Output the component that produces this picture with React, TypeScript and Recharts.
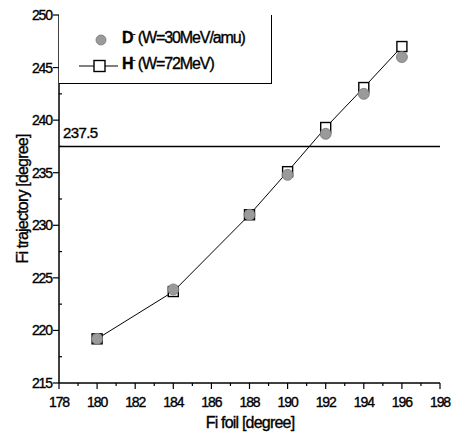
import React from "react";
import {
  ComposedChart,
  Line,
  XAxis,
  YAxis,
  ReferenceLine,
} from "recharts";

const foil = [180, 184, 188, 190, 192, 194, 196];
const dMinus = [219.2, 223.9, 231.0, 234.8, 238.7, 242.5, 246.0];
const hMinus = [219.2, 223.7, 231.0, 235.1, 239.3, 243.1, 247.0];
const xTicks = [178, 179, 180, 181, 182, 183, 184, 185, 186, 187, 188, 189, 190, 191, 192, 193, 194, 195, 196, 197, 198];
const yTicks = [215, 217.5, 220, 222.5, 225, 227.5, 230, 232.5, 235, 237.5, 240, 242.5, 245, 247.5, 250];
const refValue = 237.5;

const data = foil.map((x, i) => ({ x, d: dMinus[i], h: hMinus[i] }));

const FONT = "'Liberation Sans', Arial, sans-serif";
const textStyle = { stroke: "#000", strokeWidth: 0.35 };

const BottomTick = (props: any) => {
  const { x, y, payload } = props;
  const major = payload.value % 2 === 0;
  return (
    <g>
      <line x1={x} x2={x} y1={y} y2={y + (major ? 6 : 3)} stroke="#000" strokeWidth={1.2} />
      {major && (
        <text x={x} y={y + 24} textAnchor="middle" fontSize={14} letterSpacing={-1.1} fontFamily={FONT} fill="#000" style={textStyle}>
          {payload.value}
        </text>
      )}
    </g>
  );
};

const TopTick = (props: any) => {
  const { x, y, payload } = props;
  const major = payload.value % 2 === 0;
  return <line x1={x} x2={x} y1={y} y2={y + (major ? 5 : 3)} stroke="#000" strokeWidth={1.2} />;
};

const LeftTick = (props: any) => {
  const { x, y, payload } = props;
  const major = payload.value % 5 === 0;
  return (
    <g>
      <line x1={x} x2={x - (major ? 6 : 0)} y1={y} y2={y} stroke="#000" strokeWidth={1.2} />
      {!major && <line x1={x} x2={x + 3} y1={y} y2={y} stroke="#000" strokeWidth={1.2} />}
      {major && (
        <text x={x - 7} y={y + 5} textAnchor="end" fontSize={14} letterSpacing={-1.1} fontFamily={FONT} fill="#000" style={textStyle}>
          {payload.value}
        </text>
      )}
    </g>
  );
};

const RightTick = (props: any) => {
  const { x, y, payload } = props;
  const major = payload.value % 5 === 0;
  return <line x1={x} x2={x - (major ? 5 : 3)} y1={y} y2={y} stroke="#000" strokeWidth={1.2} />;
};

const GrayDot = (props: any) => {
  const { cx, cy } = props;
  if (cx == null || cy == null) return null;
  return <circle cx={cx} cy={cy} r={5.5} fill="#9a9a9a" stroke="#777" strokeWidth={0.8} />;
};

const SquareDot = (props: any) => {
  const { cx, cy } = props;
  if (cx == null || cy == null) return null;
  return <rect x={cx - 5} y={cy - 5} width={10} height={10} fill="#fff" stroke="#000" strokeWidth={1.4} />;
};

const LegendBox = () => (
  <div
    style={{
      position: "absolute",
      left: 59,
      top: 15,
      width: 213,
      height: 69,
      borderRight: "1.5px solid #000",
      borderBottom: "1.5px solid #000",
      background: "#fff",
      boxSizing: "border-box",
      fontFamily: FONT,
      fontSize: 16,
      letterSpacing: -1.1,
      WebkitTextStroke: "0.35px #000",
    }}
  >
    <svg width={62} height={68} style={{ position: "absolute", left: 0, top: 0 }}>
      <circle cx={42} cy={25} r={5} fill="#9a9a9a" stroke="#777" strokeWidth={0.8} />
      <line x1={20} x2={59} y1={51} y2={51} stroke="#000" strokeWidth={1} />
      <rect x={35} y={45.5} width={11} height={11} fill="#fff" stroke="#000" strokeWidth={1.4} />
    </svg>
    <div style={{ position: "absolute", left: 63, top: 14 }}>
      <b>D</b>
      <sup style={{ fontSize: 9 }}>-</sup> (W=30MeV/amu)
    </div>
    <div style={{ position: "absolute", left: 63, top: 40 }}>
      <b>H</b>
      <sup style={{ fontSize: 9 }}>-</sup> (W=72MeV)
    </div>
  </div>
);

export default function App() {
  return (
    <div style={{ position: "absolute", left: 0, top: 0, width: 453, height: 436, background: "#fff" }}>
      <ComposedChart width={453} height={436} data={data} margin={{ top: 15, right: 13, bottom: 0, left: 0 }}>
        <XAxis
          xAxisId="bottom"
          dataKey="x"
          type="number"
          domain={[178, 198]}
          ticks={xTicks}
          interval={0}
          height={53}
          tickSize={0}
          tickMargin={0}
          tickLine={false}
          axisLine={{ stroke: "#000", strokeWidth: 1.5 }}
          tick={<BottomTick />}
          label={{
            content: () => (
              <text x={250} y={428} textAnchor="middle" fontSize={16} letterSpacing={-0.8} fontFamily={FONT} fill="#000" style={textStyle}>
                Fi foil [degree]
              </text>
            ),
          }}
        />
        <XAxis
          xAxisId="top"
          orientation="top"
          type="number"
          domain={[178, 198]}
          ticks={xTicks}
          interval={0}
          height={0}
          mirror
          tickSize={0}
          tickMargin={0}
          tickLine={false}
          axisLine={{ stroke: "#000", strokeWidth: 1.5 }}
          tick={<TopTick />}
        />
        <YAxis
          yAxisId="left"
          type="number"
          domain={[215, 250]}
          ticks={yTicks}
          interval={0}
          width={59}
          tickSize={0}
          tickMargin={0}
          tickLine={false}
          axisLine={{ stroke: "#000", strokeWidth: 1.5 }}
          tick={<LeftTick />}
          label={{
            content: () => (
              <text
                x={28}
                y={199}
                transform="rotate(-90 28 199)"
                textAnchor="middle"
                fontSize={16}
                letterSpacing={-0.8}
                fontFamily={FONT}
                fill="#000"
                style={textStyle}
              >
                Fi trajectory [degree]
              </text>
            ),
          }}
        />
        <YAxis
          yAxisId="right"
          orientation="right"
          type="number"
          domain={[215, 250]}
          ticks={yTicks}
          interval={0}
          width={0}
          mirror
          tickSize={0}
          tickMargin={0}
          tickLine={false}
          axisLine={{ stroke: "#000", strokeWidth: 1.5 }}
          tick={<RightTick />}
        />
        <ReferenceLine
          xAxisId="bottom"
          yAxisId="left"
          y={refValue}
          stroke="#000"
          strokeWidth={1.5}
          label={{
            content: (p: any) => (
              <text x={p.viewBox.x + 4} y={p.viewBox.y - 8} fontSize={15} letterSpacing={-0.6} fontFamily={FONT} fill="#000" style={textStyle}>
                {refValue}
              </text>
            ),
          }}
        />
        <Line
          xAxisId="bottom"
          yAxisId="left"
          dataKey="h"
          stroke="#000"
          strokeWidth={1}
          dot={<SquareDot />}
          activeDot={false}
          isAnimationActive={false}
        />
        <Line
          xAxisId="bottom"
          yAxisId="left"
          dataKey="d"
          stroke="none"
          dot={<GrayDot />}
          activeDot={false}
          isAnimationActive={false}
        />
      </ComposedChart>
      <LegendBox />
    </div>
  );
}
